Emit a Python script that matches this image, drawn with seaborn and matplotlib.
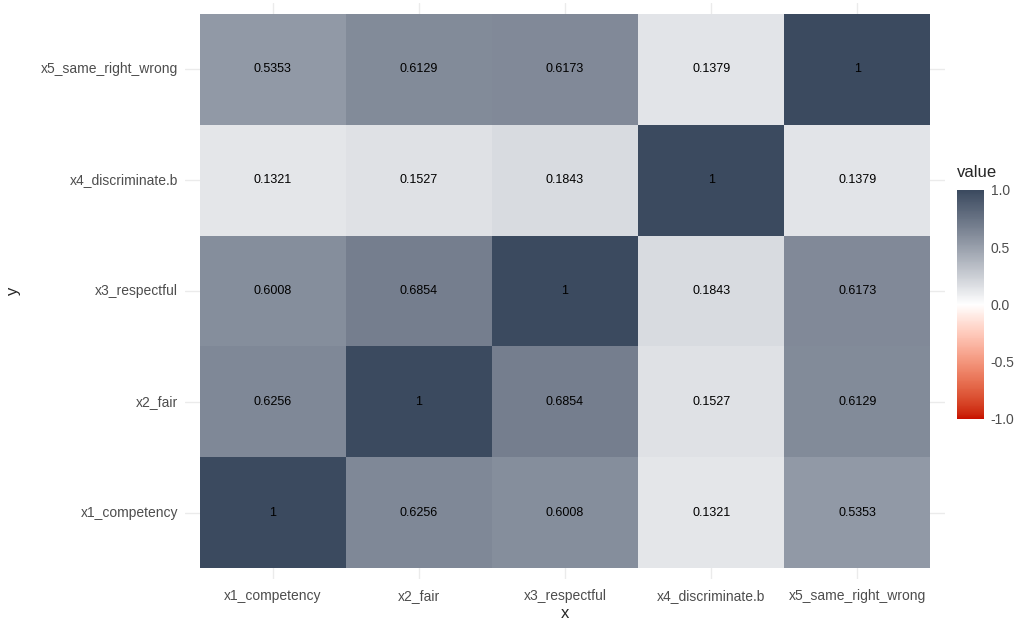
import numpy as np
import pandas as pd
import seaborn as sns
import matplotlib.pyplot as plt
from matplotlib.colors import ListedColormap, to_rgb

# correlation matrix, rows/cols in the same order
variables = ["x1_competency", "x2_fair", "x3_respectful", "x4_discriminate.b", "x5_same_right_wrong"]
x1_row = [1, 0.6256, 0.6008, 0.1321, 0.5353]
x2_row = [0.6256, 1, 0.6854, 0.1527, 0.6129]
x3_row = [0.6008, 0.6854, 1, 0.1843, 0.6173]
x4_row = [0.1321, 0.1527, 0.1843, 1, 0.1379]
x5_row = [0.5353, 0.6129, 0.6173, 0.1379, 1]

corr = pd.DataFrame([x1_row, x2_row, x3_row, x4_row, x5_row], index=variables, columns=variables)
# heatmap draws first row at top, ggplot has x1 at the bottom
corr = corr.iloc[::-1]
labels = corr.map(lambda v: f"{v:.4g}").values


# ggplot's gradient2 interpolates in Lab space, so do the same here
def srgb_to_lab(rgb):
    rgb = np.asarray(rgb, dtype=float)
    lin = np.where(rgb <= 0.04045, rgb / 12.92, ((rgb + 0.055) / 1.055) ** 2.4)
    m = np.array([[0.4124, 0.3576, 0.1805], [0.2126, 0.7152, 0.0722], [0.0193, 0.1192, 0.9505]])
    xyz = m @ lin / np.array([0.95047, 1.0, 1.08883])
    f = np.where(xyz > 0.008856, np.cbrt(xyz), 7.787 * xyz + 16 / 116)
    return np.array([116 * f[1] - 16, 500 * (f[0] - f[1]), 200 * (f[1] - f[2])])


def lab_to_srgb(lab):
    L, a, b = lab
    fy = (L + 16) / 116
    fx = fy + a / 500
    fz = fy - b / 200
    f = np.array([fx, fy, fz])
    xyz = np.where(f ** 3 > 0.008856, f ** 3, (f - 16 / 116) / 7.787) * np.array([0.95047, 1.0, 1.08883])
    minv = np.array([[3.2406, -1.5372, -0.4986], [-0.9689, 1.8758, 0.0415], [0.0557, -0.2040, 1.0570]])
    lin = minv @ xyz
    rgb = np.where(lin <= 0.0031308, 12.92 * lin, 1.055 * np.clip(lin, 0, None) ** (1 / 2.4) - 0.055)
    return np.clip(rgb, 0, 1)


low, mid, high = srgb_to_lab(to_rgb("#C81000")), srgb_to_lab(to_rgb("#FFFFFF")), srgb_to_lab(to_rgb("#3B4A5F"))
colors = []
for t in np.linspace(-1, 1, 256):
    if t < 0:
        lab = mid + (low - mid) * (-t)
    else:
        lab = mid + (high - mid) * t
    colors.append(lab_to_srgb(lab))
cmap = ListedColormap(colors)

sns.set_style("white")
plt.rcParams["font.family"] = ["Liberation Sans", "DejaVu Sans"]

fig = plt.figure(figsize=(10.19, 6.21), dpi=100)
ax = fig.add_axes([0.1816, 0.0676, 0.7458, 0.9276])
cax = fig.add_axes([0.939, 0.3253, 0.0265, 0.3688])

sns.heatmap(corr, ax=ax, cbar_ax=cax, cmap=cmap, vmin=-1, vmax=1,
            annot=labels, fmt="", annot_kws={"fontsize": 9, "color": "black"})

ax.set_xlim(-0.1, 5.1)
ax.set_ylim(5.1, -0.1)
ax.set_axisbelow(True)
ax.grid(True, color="#EBEBEB", linewidth=1)
for s in ax.spines.values():
    s.set_visible(False)
ax.tick_params(axis="both", length=0, labelsize=10, labelcolor="#4D4D4D")
ax.tick_params(axis="x", pad=7)
ax.tick_params(axis="y", pad=5)
plt.setp(ax.get_xticklabels(), rotation=0)
plt.setp(ax.get_yticklabels(), rotation=0)
ax.set_xlabel("x", fontsize=12, labelpad=2)
ax.set_ylabel("y", fontsize=12, labelpad=14)

cbar = ax.collections[0].colorbar
cbar.outline.set_visible(False)
cbar.set_ticks([-1, -0.5, 0, 0.5, 1])
cbar.set_ticklabels(["-1.0", "-0.5", "0.0", "0.5", "1.0"])
cax.tick_params(length=0, labelsize=10, labelcolor="#4D4D4D", pad=5)
cax.set_title("value", fontsize=12, loc="left", pad=9)

fig.savefig("out.png", dpi=100)
